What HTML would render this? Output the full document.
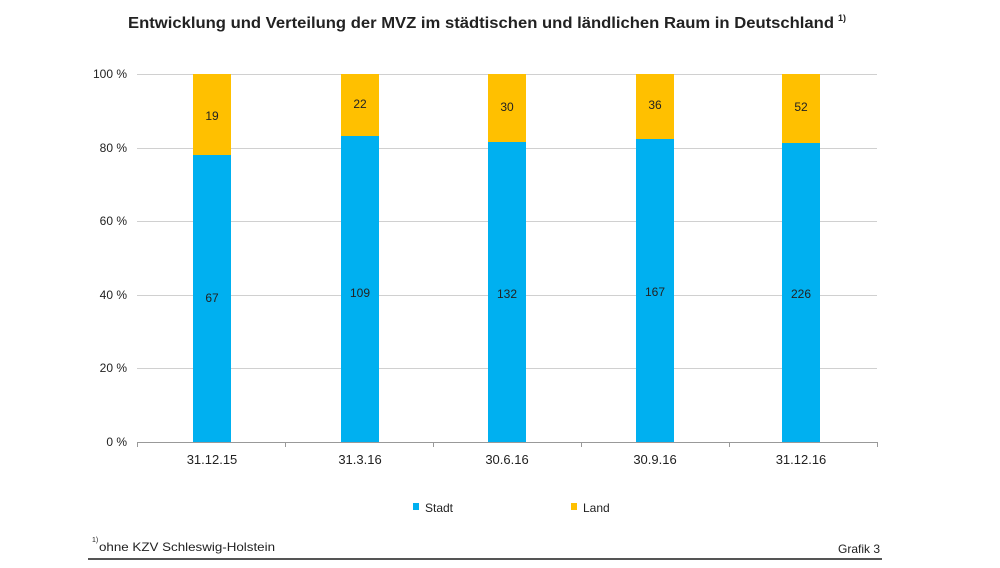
<!DOCTYPE html>
<html><head><meta charset="utf-8"><style>
body{margin:0;background:#fff;}
svg text{font-family:"Liberation Sans",Arial,sans-serif;fill:#222;}
</style></head><body>
<svg width="1000" height="563" viewBox="0 0 1000 563" xmlns="http://www.w3.org/2000/svg">
<text x="128" y="28" font-size="16" font-weight="bold" textLength="706" lengthAdjust="spacingAndGlyphs">Entwicklung und Verteilung der MVZ im städtischen und ländlichen Raum in Deutschland</text>
<text x="838" y="21" font-size="9" font-weight="bold">1)</text>
<g stroke="#d0d0d0" stroke-width="1">
<line x1="137" y1="74.5" x2="877" y2="74.5"/>
<line x1="137" y1="148.5" x2="877" y2="148.5"/>
<line x1="137" y1="221.5" x2="877" y2="221.5"/>
<line x1="137" y1="295.5" x2="877" y2="295.5"/>
<line x1="137" y1="368.5" x2="877" y2="368.5"/>
</g>
<line x1="137" y1="442.5" x2="877" y2="442.5" stroke="#999"/>
<g stroke="#999"><line x1="137.5" y1="442" x2="137.5" y2="447"/><line x1="285.5" y1="442" x2="285.5" y2="447"/><line x1="433.5" y1="442" x2="433.5" y2="447"/><line x1="581.5" y1="442" x2="581.5" y2="447"/><line x1="729.5" y1="442" x2="729.5" y2="447"/><line x1="877.5" y1="442" x2="877.5" y2="447"/></g>
<g font-size="12" text-anchor="end">
<text x="127" y="78">100 %</text><text x="127" y="152">80 %</text><text x="127" y="225">60 %</text><text x="127" y="299">40 %</text><text x="127" y="372">20 %</text><text x="127" y="446">0 %</text>
</g>
<g>
<rect x="193" y="74" width="38" height="81" fill="#ffc000"/><rect x="193" y="155" width="38" height="287" fill="#00b0f0"/>
<rect x="341" y="74" width="38" height="62" fill="#ffc000"/><rect x="341" y="136" width="38" height="306" fill="#00b0f0"/>
<rect x="488" y="74" width="38" height="68" fill="#ffc000"/><rect x="488" y="142" width="38" height="300" fill="#00b0f0"/>
<rect x="636" y="74" width="38" height="65" fill="#ffc000"/><rect x="636" y="139" width="38" height="303" fill="#00b0f0"/>
<rect x="782" y="74" width="38" height="69" fill="#ffc000"/><rect x="782" y="143" width="38" height="299" fill="#00b0f0"/>
</g>
<g font-size="12" text-anchor="middle">
<text x="212" y="120">19</text><text x="212" y="302">67</text>
<text x="360" y="108">22</text><text x="360" y="297">109</text>
<text x="507" y="111">30</text><text x="507" y="298">132</text>
<text x="655" y="109">36</text><text x="655" y="296">167</text>
<text x="801" y="111">52</text><text x="801" y="298">226</text>
</g>
<g font-size="13" text-anchor="middle">
<text x="212" y="464">31.12.15</text><text x="360" y="464">31.3.16</text><text x="507" y="464">30.6.16</text><text x="655" y="464">30.9.16</text><text x="801" y="464">31.12.16</text>
</g>
<rect x="413" y="503" width="6" height="7" fill="#00b0f0"/><text x="425" y="512" font-size="12">Stadt</text>
<rect x="571" y="503" width="6" height="7" fill="#ffc000"/><text x="583" y="512" font-size="12">Land</text>
<text x="92" y="542" font-size="7">1)</text>
<text x="99" y="551" font-size="12" textLength="176" lengthAdjust="spacingAndGlyphs">ohne KZV Schleswig-Holstein</text>
<text x="880" y="553" font-size="12" text-anchor="end">Grafik 3</text>
<line x1="88" y1="559" x2="882" y2="559" stroke="#555" stroke-width="2"/>
</svg>
</body></html>
